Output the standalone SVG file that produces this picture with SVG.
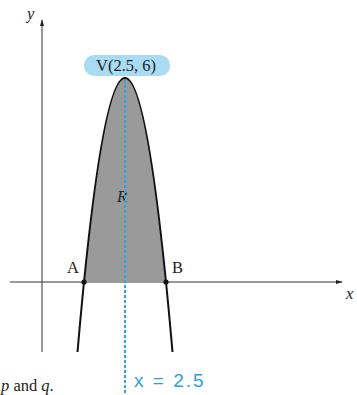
<svg xmlns="http://www.w3.org/2000/svg" width="357" height="395" viewBox="0 0 357 395">
<style>
.ax{stroke:#333;stroke-width:1;fill:none}
.lbl{font-family:"Liberation Serif",serif;font-size:16.5px;fill:#222}
.it{font-style:italic}
.curve{stroke:#111;stroke-width:2;fill:none}
</style>
<defs>
<marker id="arr" viewBox="0 0 10 10" refX="9" refY="5" markerWidth="7" markerHeight="7" orient="auto"><path d="M0,2 L10,5 L0,8 z" fill="#222"/></marker>
</defs>
<rect width="357" height="395" fill="#fff"/>
<g id="axes">
<line class="ax" x1="42" y1="352" x2="42" y2="20" marker-end="url(#arr)"/>
<line class="ax" x1="10" y1="282" x2="342" y2="282" stroke="#777" marker-end="url(#arr)"/>
<text class="lbl it" x="27" y="19">y</text>
<text class="lbl it" x="346" y="299">x</text>
</g>
<g id="region">
<path d="M84,282 Q125,-126 166,282 Z" fill="#9a9a9a"/>
<text class="lbl it" x="117" y="202">R</text>
</g>
<g id="parabola">
<path class="curve" d="M77.5,352 Q125,-196 172.5,352"/>
</g>
<g id="axis-of-symmetry">
<line x1="125" y1="80" x2="125" y2="395" stroke="#3aa0dc" stroke-width="2" stroke-dasharray="3,2"/>
<text x="134" y="387" font-family="Liberation Sans,sans-serif" font-size="19" fill="#2e9ee0" letter-spacing="2">x = 2.5</text>
</g>
<g id="vertex">
<rect x="84" y="55" width="86" height="21" rx="10" fill="#a9dcf3"/>
<text class="lbl" x="126" y="71" text-anchor="middle">V(2.5, 6)</text>
</g>
<g id="pointA">
<circle cx="84" cy="282" r="2.6" fill="#111"/>
<text class="lbl" x="67" y="273">A</text>
</g>
<g id="pointB">
<circle cx="166" cy="282" r="2.6" fill="#111"/>
<text class="lbl" x="172" y="273">B</text>
</g>
<text class="lbl" x="1" y="391"><tspan class="it">p</tspan> and <tspan class="it">q</tspan>.</text>
</svg>
